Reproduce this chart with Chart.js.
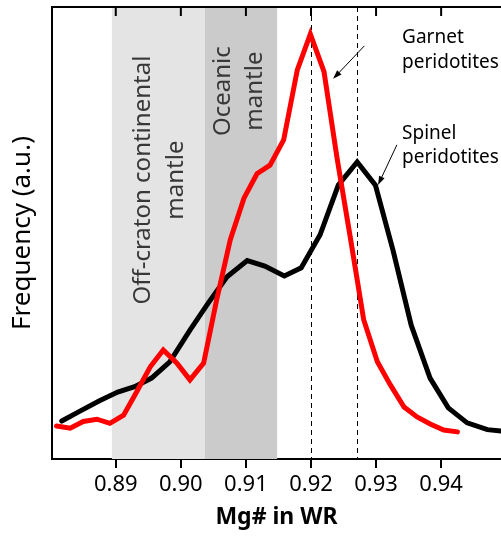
<!DOCTYPE html>
<html>
<head>
<meta charset="utf-8">
<script src="https://cdn.jsdelivr.net/npm/chart.js@4.4.1/dist/chart.umd.min.js"></script>
<style>
  html, body { margin: 0; padding: 0; background: #fff; }
  #wrap { width: 501px; height: 539px; }
</style>
</head>
<body>
<div id="wrap"><canvas id="mgChart"></canvas></div>
<script>
// x axis ticks (Mg# in whole rock)
const xTicks = [0.89, 0.90, 0.91, 0.92, 0.93, 0.94];

// Garnet peridotites (red)
const garnetMg = [0.8809, 0.8830, 0.8850, 0.8871, 0.8891, 0.8912, 0.8932, 0.8953, 0.8973, 0.8994,
                  0.9014, 0.9035, 0.9055, 0.9076, 0.9097, 0.9117, 0.9137, 0.9158, 0.9179, 0.9199,
                  0.9220, 0.9240, 0.9261, 0.9281, 0.9302, 0.9322, 0.9343, 0.9363, 0.9384, 0.9404, 0.9425];
const garnetFreq = [7.3, 6.8, 8.3, 8.8, 7.9, 9.7, 14.8, 20.4, 24.1, 21.2,
                    17.5, 21.2, 35.2, 48.5, 57.7, 63.1, 65.0, 70.6, 86.1, 94.0,
                    85.7, 66.6, 48.5, 30.8, 21.5, 16.4, 11.5, 9.3, 7.7, 6.4, 6.0];

// Spinel peridotites (black)
const spinelMg = [0.8817, 0.8845, 0.8875, 0.8903, 0.8929, 0.8955, 0.8983, 0.9014, 0.9042, 0.9071,
                  0.9102, 0.9129, 0.9159, 0.9185, 0.9214, 0.9242, 0.9271, 0.9299, 0.9326, 0.9354,
                  0.9383, 0.9411, 0.9440, 0.9471, 0.9492, 0.9515];
const spinelFreq = [8.4, 10.6, 12.9, 14.8, 16.0, 17.9, 21.5, 28.5, 34.5, 40.3,
                    43.9, 42.7, 40.5, 42.3, 49.6, 60.6, 65.7, 60.6, 46.2, 29.6,
                    17.9, 11.3, 8.0, 6.5, 6.2, 6.0];

// shaded mantle fields and reference lines
const regionFrom = [0.8894, 0.9037];
const regionTo = [0.9037, 0.9148];
const regionLines = [['Off-craton continental', 'mantle'], ['Oceanic', 'mantle']];
const refLines = [0.920, 0.927];

const FONT = '"Noto Sans", "Open Sans", sans-serif';

function toPoints(xs, ys) {
    return xs.map((v, i) => ({ x: v, y: ys[i] }));
}

function drawArrow(ctx, x0, y0, x1, y1) {
    const ang = Math.atan2(y1 - y0, x1 - x0);
    const len = 9, half = 3;
    ctx.beginPath();
    ctx.moveTo(x0, y0);
    ctx.lineTo(x1 - Math.cos(ang) * len * 0.8, y1 - Math.sin(ang) * len * 0.8);
    ctx.stroke();
    ctx.beginPath();
    ctx.moveTo(x1, y1);
    ctx.lineTo(x1 - Math.cos(ang) * len - Math.sin(ang) * half, y1 - Math.sin(ang) * len + Math.cos(ang) * half);
    ctx.lineTo(x1 - Math.cos(ang) * len + Math.sin(ang) * half, y1 - Math.sin(ang) * len - Math.cos(ang) * half);
    ctx.closePath();
    ctx.fill();
}

const overlay = {
    id: 'overlay',
    beforeDatasetsDraw(chart) {
        const { ctx, chartArea: a, scales: { x, y } } = chart;
        ctx.save();

        // shaded fields
        const fills = ['#e4e4e4', '#cbcbcb'];
        regionFrom.forEach((f, i) => {
            const x0 = x.getPixelForValue(f), x1 = x.getPixelForValue(regionTo[i]);
            ctx.fillStyle = fills[i];
            ctx.fillRect(x0, a.top, x1 - x0, a.bottom - a.top);
        });

        // field labels, rotated
        const labelPos = [
            { xs: [0.8952, 0.9004], yv: 61.7 },
            { xs: [0.9075, 0.9125], yv: 81.4 }
        ];
        ctx.fillStyle = '#383838';
        ctx.font = '24px ' + FONT;
        ctx.textAlign = 'center';
        ctx.textBaseline = 'alphabetic';
        regionLines.forEach((lines, i) => {
            lines.forEach((txt, j) => {
                ctx.save();
                ctx.translate(x.getPixelForValue(labelPos[i].xs[j]), y.getPixelForValue(labelPos[i].yv));
                ctx.rotate(-Math.PI / 2);
                ctx.fillText(txt, 0, 0);
                ctx.restore();
            });
        });

        // dashed reference lines
        ctx.strokeStyle = '#000';
        ctx.lineWidth = 1;
        ctx.setLineDash([5, 4]);
        refLines.forEach(v => {
            const px = Math.round(x.getPixelForValue(v)) + 0.5;
            ctx.beginPath();
            ctx.moveTo(px, a.top);
            ctx.lineTo(px, a.bottom);
            ctx.stroke();
        });
        ctx.setLineDash([]);

        // top frame and inward ticks
        ctx.lineWidth = 2;
        ctx.beginPath();
        ctx.moveTo(a.left - 1, a.top);
        ctx.lineTo(a.right, a.top);
        ctx.stroke();
        xTicks.forEach(v => {
            const px = x.getPixelForValue(v);
            ctx.beginPath();
            ctx.moveTo(px, a.top);
            ctx.lineTo(px, a.top + 9);
            ctx.stroke();
        });
        ctx.restore();
    },
    afterDraw(chart) {
        const { ctx, scales: { x, y } } = chart;
        ctx.save();
        ctx.fillStyle = '#000';
        ctx.strokeStyle = '#000';
        ctx.font = '19px ' + FONT;
        ctx.textAlign = 'left';
        ctx.textBaseline = 'alphabetic';
        const tx = x.getPixelForValue(0.934);
        ctx.fillText('Garnet', tx, y.getPixelForValue(92.0));
        ctx.fillText('peridotites', tx, y.getPixelForValue(86.5));
        ctx.fillText('Spinel', tx, y.getPixelForValue(70.8));
        ctx.fillText('peridotites', tx, y.getPixelForValue(65.5));

        ctx.lineWidth = 1;
        drawArrow(ctx, x.getPixelForValue(0.9282), y.getPixelForValue(91.4),
                  x.getPixelForValue(0.9234), y.getPixelForValue(84.1));
        drawArrow(ctx, x.getPixelForValue(0.9332), y.getPixelForValue(69.5),
                  x.getPixelForValue(0.9303), y.getPixelForValue(60.6));
        ctx.restore();
    }
};

const ctx = document.getElementById('mgChart');
new Chart(ctx, {
    type: 'scatter',
    data: {
        datasets: [{
            label: 'Garnet peridotites',
            data: toPoints(garnetMg, garnetFreq),
            showLine: true,
            borderColor: '#ff0000',
            borderWidth: 5,
            borderJoinStyle: 'miter',
            borderCapStyle: 'round',
            pointRadius: 0,
            tension: 0,
            order: 0
        }, {
            label: 'Spinel peridotites',
            data: toPoints(spinelMg, spinelFreq),
            showLine: true,
            borderColor: '#000000',
            borderWidth: 5,
            borderJoinStyle: 'miter',
            borderCapStyle: 'round',
            pointRadius: 0,
            tension: 0,
            order: 1
        }]
    },
    options: {
        responsive: true,
        maintainAspectRatio: false,
        animation: false,
        layout: { padding: { top: 7, right: 0, bottom: 0, left: 0 } },
        plugins: {
            legend: { display: false },
            tooltip: { enabled: false }
        },
        scales: {
            x: {
                type: 'linear',
                min: 0.8802,
                max: 0.9492,
                afterBuildTicks: (s) => { s.ticks = xTicks.map(v => ({ value: v })); },
                afterFit: (s) => { s.height = 80; },
                grid: {
                    drawOnChartArea: false,
                    drawTicks: true,
                    tickLength: 9,
                    lineWidth: 2,
                    color: '#000'
                },
                border: { display: true, color: '#000', width: 2 },
                ticks: {
                    color: '#000',
                    padding: 4,
                    maxRotation: 0,
                    font: { family: FONT, size: 22 },
                    callback: (v) => Number(v).toFixed(2)
                },
                title: {
                    display: true,
                    text: 'Mg# in WR',
                    color: '#000',
                    font: { family: FONT, size: 23, weight: 'bold' },
                    padding: { top: 0, bottom: 8 }
                }
            },
            y: {
                min: 0,
                max: 100,
                afterFit: (s) => { s.width = 52; },
                grid: { display: false },
                border: { display: true, color: '#000', width: 2 },
                ticks: { display: false },
                title: {
                    display: true,
                    text: 'Frequency (a.u.)',
                    color: '#000',
                    font: { family: FONT, size: 26 },
                    padding: { top: 7, bottom: 0 }
                }
            }
        }
    },
    plugins: [overlay]
});
</script>
</body>
</html>
